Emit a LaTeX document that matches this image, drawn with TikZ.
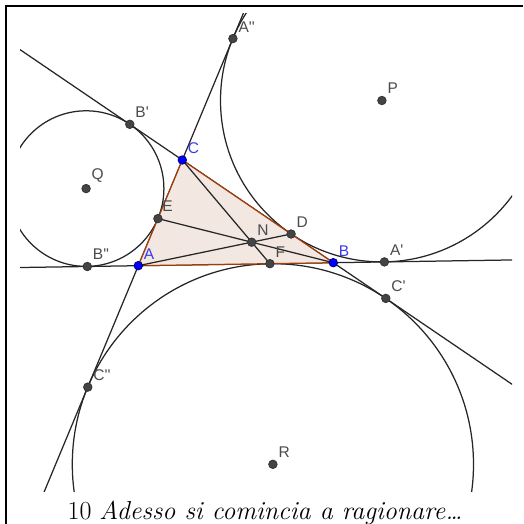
\documentclass[tikz,border=0pt]{standalone}
\usepackage{fontspec}
\newfontfamily\lblfont{Liberation Sans}
\usetikzlibrary{calc}
\definecolor{ggbrown}{RGB}{160,60,10}
\definecolor{ggfill}{RGB}{242,231,225}
\definecolor{ggblue}{RGB}{0,0,255}
\definecolor{ggdot}{RGB}{68,68,68}
\definecolor{gglbl}{RGB}{75,75,75}
\definecolor{ggblbl}{RGB}{60,60,235}
\newcommand\pr{\textquotesingle}
\tikzset{
  geo/.style  = {draw=black!85, line width=1.25pt},
  tri/.style  = {draw=ggbrown, fill=ggfill, line width=1.25pt},
  lbl/.style  = {font=\lblfont\fontsize{15.5}{15.5}\selectfont, text=gglbl,
                 inner sep=0.5pt, label distance=3pt},
  blbl/.style = {lbl, text=ggblbl},
  pt/.style   = {circle, draw=black!80, fill=ggdot, line width=0.8pt,
                 inner sep=0pt, minimum size=8.5pt},
  bpt/.style  = {pt, fill=ggblue, draw=blue!50!black},
}
\begin{document}
\begin{tikzpicture}[x=1pt, y=-1pt]
  \useasboundingbox (0,0) rectangle (523,524);
  % triangle and tangency points
  \coordinate (A) at (138.3,265.7);
  \coordinate (B) at (333.3,262.7);
  \coordinate (C) at (182.3,160.0);
  \coordinate (D) at (291.1,234.0);
  \coordinate (E) at (157.9,218.6);
  \coordinate (F) at (269.9,263.7);
  \coordinate (A1) at (384.4,261.9);
  \coordinate (A2) at (232.9,38.6);
  \coordinate (B1) at (129.8,124.3);
  \coordinate (B2) at (87.3,266.5);
  \coordinate (C1) at (385.8,298.4);
  \coordinate (C2) at (87.8,387.1);
  \coordinate (P) at (381.9,100.5);
  \coordinate (Q) at (86.1,188.6);
  \coordinate (R) at (272.9,464.3);
  \coordinate (N) at (intersection of A--D and B--E);
  % frame
  \draw[line width=2.5pt] (6,524) -- (6,6) -- (523,6);
  \begin{scope}
    \clip (20,14) rectangle (512,491);
    \draw[geo] ($(A)!-4!(B)$) -- ($(B)!-4!(A)$);
    \draw[geo] ($(B)!-4!(C)$) -- ($(C)!-4!(B)$);
    \draw[geo] ($(C)!-4!(A)$) -- ($(A)!-4!(C)$);
    \draw[geo] (P) circle[radius=161.4];
    \draw[geo] (Q) circle[radius=77.8];
    \draw[geo] (R) circle[radius=200.6];
  \end{scope}
  \filldraw[tri] (A) -- (B) -- (C) -- cycle;
  \draw[geo] (A) -- (D);
  \draw[geo] (B) -- (E);
  \draw[geo] (C) -- (F);
  % points
  \node[pt, label={[lbl]50:D}] (dD) at (D) {};
  \node[pt, label={[lbl]60:E}] (dE) at (E) {};
  \node[pt, label={[lbl]50:F}] (dF) at (F) {};
  \node[pt, label={[lbl]50:N}] (dN) at (N) {};
  \node[pt, label={[lbl]50:A\pr}] (dA1) at (A1) {};
  \node[pt, label={[lbl]50:A\pr\pr}] (dA2) at (A2) {};
  \node[pt, label={[lbl]50:B\pr}] (dB1) at (B1) {};
  \node[pt, label={[lbl]50:B\pr\pr}] (dB2) at (B2) {};
  \node[pt, label={[lbl]50:C\pr}] (dC1) at (C1) {};
  \node[pt, label={[lbl]50:C\pr\pr}] (dC2) at (C2) {};
  \node[pt, label={[lbl]50:P}] (dP) at (P) {};
  \node[pt, label={[lbl]50:Q}] (dQ) at (Q) {};
  \node[pt, label={[lbl]50:R}] (dR) at (R) {};
  \node[bpt, label={[blbl]50:A}] (dA) at (A) {};
  \node[bpt, label={[blbl]50:B}] (dB) at (B) {};
  \node[bpt, label={[blbl]50:C}] (dC) at (C) {};
  % caption
  \node[anchor=base, font=\fontsize{26}{26}\selectfont, inner sep=0pt] (cap)
    at (265,519) {10 \textit{Adesso si comincia a ragionare\ldots}};
\end{tikzpicture}
\end{document}
